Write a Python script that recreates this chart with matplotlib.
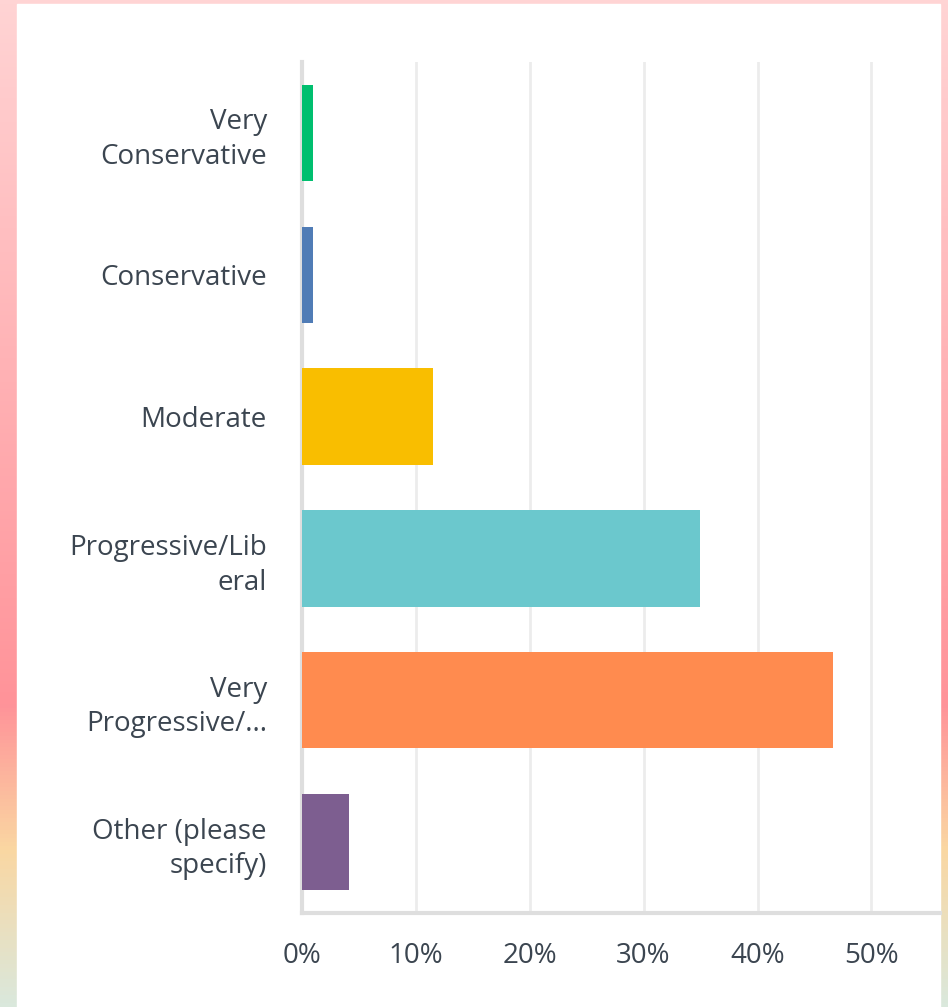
import matplotlib.pyplot as plt
import numpy as np
from matplotlib.colors import LinearSegmentedColormap
from matplotlib.patches import Rectangle
from matplotlib.ticker import FuncFormatter

categories = ["Very\nConservative", "Conservative", "Moderate",
              "Progressive/Lib\neral", "Very\nProgressive/...",
              "Other (please\nspecify)"]
percents = [0.97, 0.97, 11.55, 34.95, 46.65, 4.2]
bar_colors = ["#00bf6f", "#507cb6", "#f9be00", "#6bc8cd", "#ff8b4f", "#7d5e90"]
xticks = [0, 10, 20, 30, 40, 50]

W, H = 948, 1007
fig = plt.figure(figsize=(W / 100, H / 100), dpi=100)

# gradient border behind the white panel
bg = fig.add_axes([0, 0, 1, 1])
grad = LinearSegmentedColormap.from_list(
    "bg", [(0.0, "#ffd4d4"), (0.70, "#ff9399"), (0.845, "#fad7a2"), (1.0, "#dae8dc")])
bg.imshow(np.linspace(0, 1, 256).reshape(-1, 1), cmap=grad, aspect="auto",
          extent=[0, W, H, 0])
bg.add_patch(Rectangle((17, 4), 923, H, color="white"))
bg.set_xlim(0, W)
bg.set_ylim(H, 0)
bg.axis("off")

# plot area: 0% at x=301.5, 10% = 114 px, clipped by panel at x=940
px0, px1 = 301.5, 940
top, bottom = 62, 913
ax = fig.add_axes([px0 / W, 1 - bottom / H, (px1 - px0) / W, (bottom - top) / H])
ax.set_facecolor("none")

y = np.arange(len(categories))
ax.barh(y, percents, height=0.68, color=bar_colors, zorder=3)
ax.set_ylim(len(categories) - 0.5, -0.5)
ax.set_xlim(0, (px1 - px0) / 114 * 10)

ax.set_xticks(xticks)
ax.xaxis.set_major_formatter(FuncFormatter(lambda v, p: f"{v:.0f}%"))
ax.set_yticks(y)
ax.set_yticklabels(categories, ha="right", linespacing=1.32)
ax.grid(axis="x", color="#ececec", linewidth=2, zorder=0)
ax.tick_params(length=0, labelsize=20, colors="#3b4550", labelfontfamily="Open Sans")
ax.tick_params(axis="y", pad=25)
ax.tick_params(axis="x", pad=21)

for side in ["top", "right"]:
    ax.spines[side].set_visible(False)
for side in ["left", "bottom"]:
    ax.spines[side].set_color("#dedede")
    ax.spines[side].set_linewidth(3)

fig.savefig("out.png", dpi=100)
